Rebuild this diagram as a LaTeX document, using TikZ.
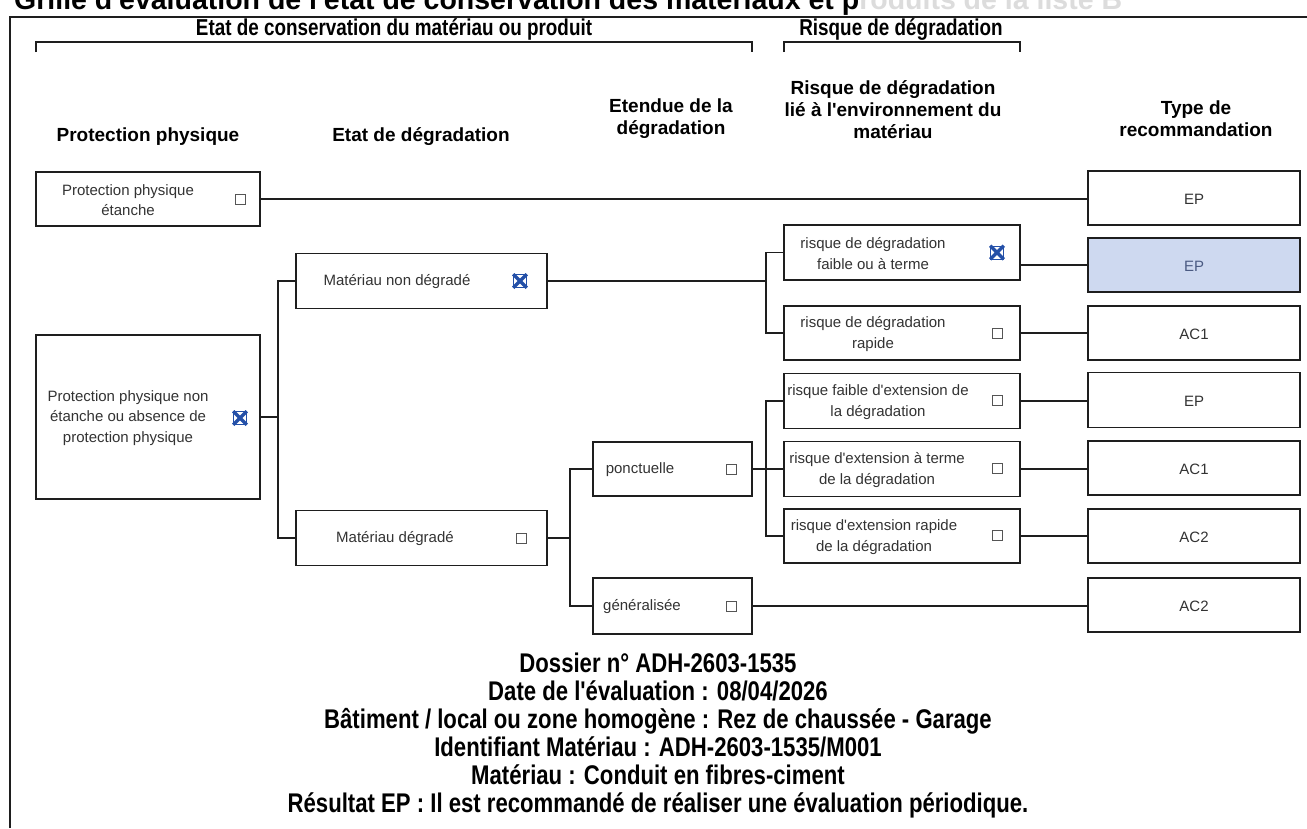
\documentclass[tikz,border=0pt]{standalone}
\usepackage{fontspec}
\setmainfont{Liberation Sans}
\newfontfamily\narrowfont[FakeStretch=0.82]{Liberation Sans}
\usetikzlibrary{calc}
\newcommand{\apos}{\textquotesingle}
\definecolor{linec}{HTML}{1E1E1E}
\definecolor{textc}{HTML}{333333}
\definecolor{chkc}{HTML}{555555}
\definecolor{xblue}{HTML}{2450A8}
\definecolor{selfill}{HTML}{CED9F0}
\definecolor{seltext}{HTML}{4A5A82}
\definecolor{faint}{HTML}{DCDCDC}
\tikzset{
  box/.style={draw=linec, line width=1.8pt, inner sep=0pt, fill=white},
  wbox/.style={box, minimum width=#1},
  boxtext/.style={align=center, inner sep=0pt, text=textc,
    font=\fontsize{15pt}{20.5pt}\selectfont},
  hdr/.style={align=center, inner sep=0pt, text=black,
    font=\bfseries\fontsize{19pt}{22pt}\selectfont},
  grp/.style={inner sep=0pt, anchor=base, text=black,
    font=\narrowfont\bfseries\fontsize{23pt}{26pt}\selectfont},
  info/.style={inner sep=0pt, anchor=base, text=black,
    font=\narrowfont\bfseries\fontsize{27pt}{28pt}\selectfont},
  chk/.style={draw=chkc, line width=1pt, minimum size=10pt, inner sep=0pt},
  chkd/.style={draw=xblue, line width=0.6pt, minimum size=13pt, inner sep=0pt},
  xmark/.style={draw=xblue, line width=3.4pt},
  conn/.style={draw=linec, line width=1.8pt},
  bracket/.style={draw=linec, line width=1.8pt},
  frame/.style={draw=linec, line width=1.5pt}
}
\begin{document}
\begin{tikzpicture}[x=1pt,y=-1pt]
\useasboundingbox (0,0) rectangle (1307,828);

% title line, partly above the page
\node[anchor=base west, inner sep=0pt, font=\bfseries\fontsize{28.5pt}{30pt}\selectfont]
  (title) at (14,9) {Grille d\apos évaluation de l\apos état de conservation des matériaux et p\textcolor{faint}{roduits de la liste B}};

% frame
\draw[frame] (10,828) -- (10,17) -- (1307,17);

% group headings with brackets
\node[grp] (g1) at (394,35) {Etat de conservation du matériau ou produit};
\node[grp] (g2) at (901,35) {Risque de dégradation};
\draw[bracket] (36,52) -- (36,42) -- (752,42) -- (752,52);
\draw[bracket] (784,52) -- (784,42) -- (1020,42) -- (1020,52);

% column headings
\node[hdr] (h1) at (148,137) {Protection physique};
\node[hdr] (h2) at (421,137) {Etat de dégradation};
\node[hdr] (h3) at (671,119) {Etendue de la\\dégradation};
\node[hdr] (h4) at (893,110) {Risque de dégradation\\lié à l\apos environnement du\\matériau};
\node[hdr] (h5) at (1196,119) {Type de\\recommandation};

% column 1 : physical protection
\node[wbox=224pt, minimum height=54pt] (pp1) at (148,199) {};
\node[boxtext] (pp1t) at (128,200) {Protection physique\\étanche};
\node[chk] (cb1) at (240,199) {};
\node[wbox=224pt, minimum height=164pt] (pp2) at (148,417) {};
\node[boxtext] (pp2t) at (128,418) {Protection physique non\\étanche ou absence de\\protection physique};
\node[chkd] (cb2) at (240,418) {};

% column 2 : degradation state
\node[wbox=251pt, minimum height=55pt] (mnd) at (421.5,281) {};
\node[boxtext] (mndt) at (397,282) {Matériau non dégradé};
\node[chkd] (cb3) at (520,281) {};
\node[wbox=251pt, minimum height=55pt] (md) at (421.5,538) {};
\node[boxtext] (mdt) at (395,539) {Matériau dégradé};
\node[chk] (cb4) at (521,538) {};

% column 3 : extent
\node[wbox=159pt, minimum height=54pt] (ponc) at (672.5,469) {};
\node[boxtext] (ponct) at (640,470) {ponctuelle};
\node[chk] (cb5) at (731,469) {};
\node[wbox=159pt, minimum height=56pt] (gen) at (672.5,606) {};
\node[boxtext] (gent) at (642,607) {généralisée};
\node[chk] (cb6) at (731,606) {};

% column 4 : environment risk
\node[wbox=236pt, minimum height=55pt] (r1) at (902,252.5) {};
\node[boxtext] (r1t) at (873,253.5) {risque de dégradation\\faible ou à terme};
\node[chkd] (cb7) at (997,252.5) {};
\node[wbox=236pt, minimum height=54pt] (r2) at (902,333) {};
\node[boxtext] (r2t) at (873,334) {risque de dégradation\\rapide};
\node[chk] (cb8) at (997,333) {};
\node[wbox=236pt, minimum height=55pt] (r3) at (902,401) {};
\node[boxtext] (r3t) at (878,402) {risque faible d\apos extension de\\la dégradation};
\node[chk] (cb9) at (997,400) {};
\node[wbox=236pt, minimum height=55pt] (r4) at (902,469) {};
\node[boxtext] (r4t) at (877,470) {risque d\apos extension à terme\\de la dégradation};
\node[chk] (cb10) at (997,468) {};
\node[wbox=236pt, minimum height=54pt] (r5) at (902,536) {};
\node[boxtext] (r5t) at (874,537) {risque d\apos extension rapide\\de la dégradation};
\node[chk] (cb11) at (997,535) {};

% column 5 : recommendation
\node[wbox=212pt, minimum height=54pt] (t1) at (1194,198) {};
\node[boxtext] (t1t) at (1194,199) {EP};
\node[wbox=212pt, minimum height=54pt, fill=selfill] (t2) at (1194,265) {};
\node[boxtext, text=seltext] (t2t) at (1194,266) {EP};
\node[wbox=212pt, minimum height=54pt] (t3) at (1194,333) {};
\node[boxtext] (t3t) at (1194,334) {AC1};
\node[wbox=212pt, minimum height=55pt] (t4) at (1194,400) {};
\node[boxtext] (t4t) at (1194,401) {EP};
\node[wbox=212pt, minimum height=54pt] (t5) at (1194,468) {};
\node[boxtext] (t5t) at (1194,469) {AC1};
\node[wbox=212pt, minimum height=54pt] (t6) at (1194,536) {};
\node[boxtext] (t6t) at (1194,537) {AC2};
\node[wbox=212pt, minimum height=54pt] (t7) at (1194,605) {};
\node[boxtext] (t7t) at (1194,606) {AC2};

% crosses in the ticked boxes
\foreach \c in {cb2,cb3,cb7}
  \draw[xmark] (\c.north west) -- (\c.south east) (\c.north east) -- (\c.south west);

% junction points of the tree
\coordinate (j1) at (278,417);
\coordinate (j2) at (570,538);
\coordinate (j3) at (766,281);
\coordinate (j4) at (766,469);

% connectors
\draw[conn] (pp1.east) -- (pp1.east -| t1.west);
\draw[conn] (pp2.east) -- (j1);
\draw[conn] (mnd.west) -| (j1) |- (md.west);
\draw[conn] (md.east) -- (j2);
\draw[conn] (ponc.west) -| (j2) |- (gen.west);
\draw[conn] (mnd.east) -- (j3);
\draw[conn] (r1.west) -| (j3) |- (r2.west);
\draw[conn] (ponc.east) -- (j4);
\draw[conn] (r3.west) -| (j4) |- (r5.west);
\draw[conn] (j4) -- (r4.west);
\draw[conn] (t2.west) -- (t2.west -| r1.east);
\draw[conn] (r2.east) -- (t3.west);
\draw[conn] (r3.east) -- (r3.east -| t4.west);
\draw[conn] (r4.east) -- (r4.east -| t5.west);
\draw[conn] (r5.east) -- (t6.west);
\draw[conn] (gen.east) -- (gen.east -| t7.west);

% evaluation summary
\node[info] (i1) at (658,672) {Dossier n° ADH-2603-1535};
\node[info] (i2) at (658,700) {Date de l'évaluation : 08/04/2026};
\node[info] (i3) at (658,728) {Bâtiment / local ou zone homogène : Rez de chaussée - Garage};
\node[info] (i4) at (658,756) {Identifiant Matériau : ADH-2603-1535/M001};
\node[info] (i5) at (658,784) {Matériau : Conduit en fibres-ciment};
\node[info] (i6) at (658,812) {Résultat EP : Il est recommandé de réaliser une évaluation périodique.};
\end{tikzpicture}
\end{document}
